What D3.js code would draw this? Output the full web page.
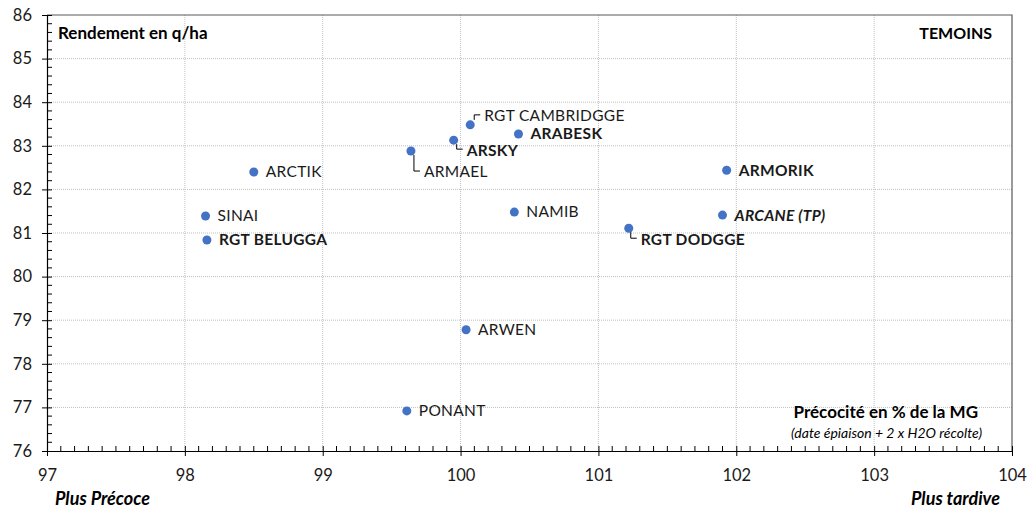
<!DOCTYPE html>
<html>
<head>
<meta charset="utf-8">
<script src="https://cdn.jsdelivr.net/npm/d3@7"></script>
<style>
  html, body { margin: 0; padding: 0; background: #fff; }
  svg { display: block; font-family: Lato, "Open Sans", sans-serif; }
</style>
</head>
<body>
<div id="chart"></div>
<script>
/* Scatter: yield vs earliness, wheat varieties */

const names = ["ARCTIK", "SINAI", "RGT BELUGGA", "ARMAEL", "ARSKY", "RGT CAMBRIDGGE",
  "ARABESK", "NAMIB", "ARWEN", "PONANT", "RGT DODGGE", "ARCANE (TP)", "ARMORIK"];
const precocite = [98.50, 98.15, 98.16, 99.64, 99.95, 100.07,
  100.42, 100.39, 100.04, 99.61, 101.22, 101.90, 101.93];
const rendement = [82.40, 81.39, 80.84, 82.88, 83.13, 83.48,
  83.27, 81.48, 78.78, 76.92, 81.11, 81.41, 82.44];
// label kind: n = normal, b = bold, bi = bold italic
const labelKind = ["n", "n", "b", "n", "b", "n", "b", "n", "n", "n", "b", "bi", "b"];

const xTicks = [97, 98, 99, 100, 101, 102, 103, 104];
const yTicks = [76, 77, 78, 79, 80, 81, 82, 83, 84, 85, 86];

// labels that sit off their point with a small leader line
const leaders = {
  "RGT CAMBRIDGGE": { dir: "up", dx: 4, dy: -10 },
  "ARSKY": { dir: "down", dx: 3, dy: 9 },
  "ARMAEL": { dir: "down", dx: 3, dy: 20 },
  "RGT DODGGE": { dir: "down", dx: 2, dy: 10 },
};

const W = 1027, H = 510;
const margin = { top: 15, right: 15, bottom: 59, left: 47 };

const svg = d3.select("#chart").append("svg")
  .attr("width", W).attr("height", H).attr("viewBox", `0 0 ${W} ${H}`);

const x = d3.scaleLinear().domain([97, 104]).range([margin.left, W - margin.right]);
const y = d3.scaleLinear().domain([76, 86]).range([H - margin.bottom, margin.top]);

const x0 = x.range()[0], x1 = x.range()[1];
const y0 = y.range()[0], y1 = y.range()[1];

// grid
svg.append("g").selectAll("line").data(xTicks.slice(1, -1)).join("line")
  .attr("x1", d => x(d)).attr("x2", d => x(d)).attr("y1", y1).attr("y2", y0)
  .attr("stroke", "#bfbfbf").attr("stroke-dasharray", "1,1");
svg.append("g").selectAll("line").data(yTicks.slice(1, -1)).join("line")
  .attr("x1", x0).attr("x2", x1).attr("y1", d => y(d)).attr("y2", d => y(d))
  .attr("stroke", "#bfbfbf").attr("stroke-dasharray", "1,1");

// frame (top + right)
svg.append("path")
  .attr("d", `M${x0},${y1}H${x1}V${y0}`)
  .attr("fill", "none").attr("stroke", "#595959").attr("stroke-width", 1.2);

// minor ticks
const xMinor = d3.range(970, 1041).map(d => d / 10).filter(d => !xTicks.includes(d));
const yMinor = d3.range(380, 431).map(d => d / 5).filter(d => !yTicks.includes(d));

svg.append("g").selectAll("line").data(xMinor).join("line")
  .attr("x1", d => x(d)).attr("x2", d => x(d)).attr("y1", y0).attr("y2", y0 - 5)
  .attr("stroke", "#000");
svg.append("g").selectAll("line").data(yMinor).join("line")
  .attr("x1", x0).attr("x2", x0 + 5).attr("y1", d => y(d)).attr("y2", d => y(d))
  .attr("stroke", "#000");

// axes (major ticks cross the line)
const xAxis = svg.append("g").attr("transform", `translate(0,${y0})`)
  .call(d3.axisBottom(x).tickValues(xTicks).tickFormat(d3.format("d"))
    .tickSize(5).tickSizeOuter(0).tickPadding(13));
xAxis.selectAll(".tick line").attr("y1", -5);
const yAxis = svg.append("g").attr("transform", `translate(${x0},0)`)
  .call(d3.axisLeft(y).tickValues(yTicks).tickFormat(d3.format("d"))
    .tickSize(5).tickSizeOuter(0).tickPadding(10));
yAxis.selectAll(".tick line").attr("x1", 5);
[xAxis, yAxis].forEach(a => {
  a.select(".domain").attr("stroke", "#000").attr("stroke-width", 1.2);
  a.selectAll(".tick line").attr("stroke", "#000");
  a.selectAll("text").attr("font-family", "Lato, sans-serif")
    .attr("font-size", 16.5).attr("fill", "#1a1a1a");
});

// points
svg.append("g").selectAll("circle").data(names).join("circle")
  .attr("cx", (d, i) => x(precocite[i])).attr("cy", (d, i) => y(rendement[i]))
  .attr("r", 4.5).attr("fill", "#4472c4");

// labels
const lbl = svg.append("g").attr("font-size", 15.5).attr("fill", "#1a1a1a");
names.forEach((n, i) => {
  const px = x(precocite[i]), py = y(rendement[i]);
  const k = labelKind[i];
  const ld = leaders[n];
  let tx = px + 12, ty = py;
  if (ld) {
    const lx = px + ld.dx, ly = py + ld.dy;
    const startY = ld.dir === "up" ? py - 5 : py + 4;
    svg.append("path")
      .attr("d", `M${lx},${startY}V${ly}H${lx + 6}`)
      .attr("fill", "none").attr("stroke", "#000").attr("stroke-width", 1);
    tx = lx + 10; ty = ly + 1;
  }
  lbl.append("text")
    .attr("x", tx).attr("y", ty).attr("dy", "0.35em")
    .attr("font-weight", k === "n" ? 400 : 700)
    .attr("font-style", k === "bi" ? "italic" : "normal")
    .attr("letter-spacing", 0.3)
    .text(n);
});

// titles
svg.append("text").attr("x", 58).attr("y", 39)
  .attr("font-size", 17).attr("font-weight", 700).attr("fill", "#000")
  .text("Rendement en q/ha");
svg.append("text").attr("x", 992).attr("y", 39).attr("text-anchor", "end")
  .attr("font-size", 16).attr("font-weight", 700).attr("fill", "#000")
  .text("TEMOINS");
svg.append("text").attr("x", 978).attr("y", 418).attr("text-anchor", "end")
  .attr("font-size", 17).attr("font-weight", 700).attr("fill", "#000")
  .text("Précocité en % de la MG");
svg.append("text").attr("x", 982).attr("y", 438).attr("text-anchor", "end")
  .attr("font-size", 14).attr("font-style", "italic").attr("fill", "#000")
  .text("(date épiaison + 2 x H2O récolte)");
svg.append("text").attr("x", 55).attr("y", 505)
  .attr("font-size", 18).attr("font-weight", 700).attr("font-style", "italic").attr("fill", "#000")
  .text("Plus Précoce");
svg.append("text").attr("x", 1000).attr("y", 505).attr("text-anchor", "end")
  .attr("font-size", 18).attr("font-weight", 700).attr("font-style", "italic").attr("fill", "#000")
  .text("Plus tardive");
</script>
</body>
</html>
